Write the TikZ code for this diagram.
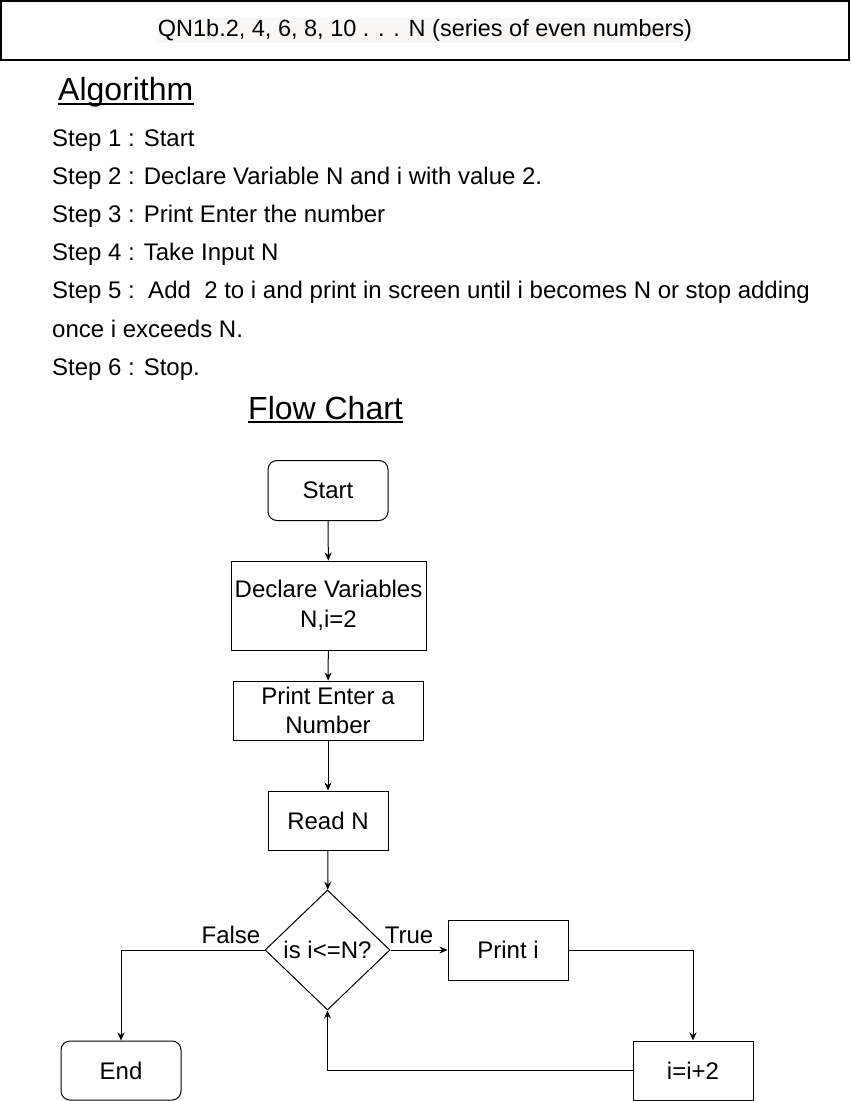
\documentclass[tikz,border=0pt]{standalone}
\usepackage{fontspec}
\setmainfont{Liberation Sans}
\usetikzlibrary{shapes.geometric,arrows.meta}
\definecolor{hilite}{RGB}{249,248,247}
\tikzset{
  box/.style={draw, line width=1pt, inner sep=0pt, align=center,
    minimum width=120pt, minimum height=60pt, font=\fontsize{24}{29.5}\selectfont},
  termbox/.style={box, rounded corners=9pt},
  decision/.style={diamond, draw, line width=1pt, inner sep=0pt, shape aspect=1.04,
    minimum width=125pt, minimum height=120pt, font=\fontsize{24}{28}\selectfont},
  steptext/.style={anchor=base west, inner sep=0pt, font=\fontsize{24}{28}\selectfont},
  headtext/.style={anchor=base west, inner sep=0pt, font=\fontsize{32}{36}\selectfont},
  flow/.style={line width=1pt, -{Stealth[length=8pt,width=7pt]}},
  lbl/.style={inner sep=0pt, font=\fontsize{24}{28}\selectfont}
}
\begin{document}
\begin{tikzpicture}[x=1pt, y=-1pt]
    \useasboundingbox (0,0) rectangle (851,1101);
    % 标题框
    \node[draw, line width=1.2pt, minimum width=848pt, minimum height=59pt, inner sep=0pt] (title) at (425,30.5) {};
    \node[fill=hilite, inner sep=2pt, font=\fontsize{23.5}{28}\selectfont] (titletext) at (title.center)
        {QN1b.2, 4, 6, 8, 10 . . . N (series of even numbers)};

    % 算法
    \node[headtext] (algo) at (58,100) {Algorithm};
    \draw[line width=1.5pt] ([yshift=-4pt]algo.base west) -- ([yshift=-4pt]algo.base east);
    \node[steptext] (step1) at (52,146) {Step 1 : Start};
    \node[steptext] (step2) at (52,184) {Step 2 : Declare Variable N and i with value 2.};
    \node[steptext] (step3) at (52,222) {Step 3 : Print Enter the number};
    \node[steptext] (step4) at (52,260) {Step 4 : Take Input N};
    \node[steptext] (step5) at (52,298) {Step 5 :\ \ Add\ \ 2 to i and print in screen until i becomes N or stop adding};
    \node[steptext] (step5b) at (52,337) {once i exceeds N.};
    \node[steptext] (step6) at (52,375) {Step 6 : Stop.};

    % 流程图
    \node[headtext] (chart) at (248,419) {Flow Chart};
    \draw[line width=1.5pt] ([yshift=-3pt]chart.base west) -- ([yshift=-3pt]chart.base east);

    \node[termbox] (start) at (328,490.5) {Start};
    \node[box, minimum width=195pt, minimum height=89pt] (declare) at (328.5,605.5) {Declare Variables\\N,i=2};
    \node[box, minimum width=190pt, minimum height=59pt] (enter) at (328,710.5) {Print Enter a\\Number};
    \node[box, minimum height=59pt] (read) at (328,820.5) {Read N};
    \node[decision] (cond) at (327.5,950) {is i<=N?};
    \node[box] (printi) at (508,950) {Print i};
    \node[box, minimum height=59pt] (incr) at (693,1070.5) {i=i+2};
    \node[termbox, minimum height=59pt] (stop) at (121,1070.5) {End};

    % 连线
    \draw[flow] (start) -- (declare);
    \draw[flow] (declare) -- (enter);
    \draw[flow] (enter) -- (read);
    \draw[flow] (read) -- (cond);
    \draw[flow] (cond.east) -- (printi.west);
    \draw[flow] (printi.east) -| (incr.north);
    \draw[flow] (incr.west) -| (cond.south);
    \draw[flow] (cond.west) -| (stop.north);
    \node[lbl] (truelbl) at (409,935) {True};
    \node[lbl] (falselbl) at (231,935) {False};
\end{tikzpicture}
\end{document}
